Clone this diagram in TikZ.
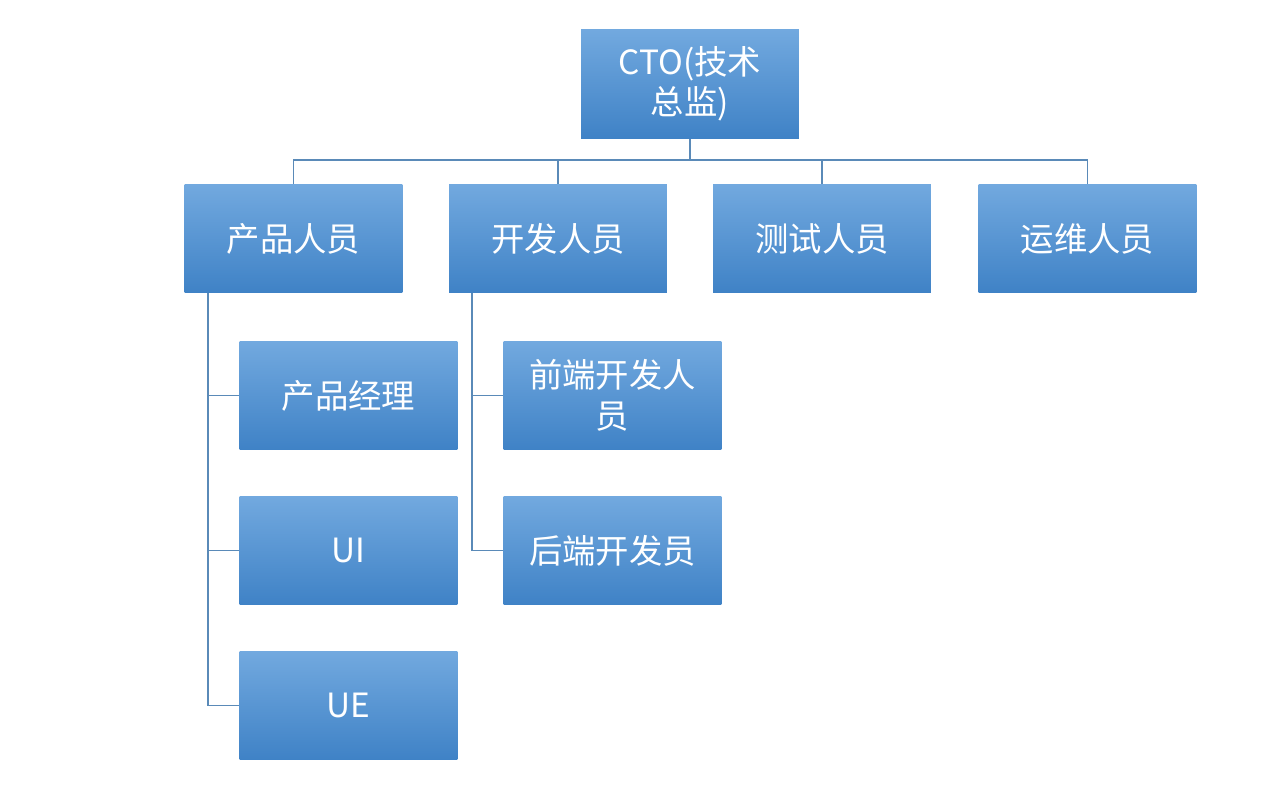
\documentclass[tikz,border=0pt]{standalone}
\usepackage{fontspec}
\setmainfont{Noto Sans CJK SC}
\usetikzlibrary{positioning}
\definecolor{boxtop}{HTML}{72A9DF}
\definecolor{boxbot}{HTML}{3F82C6}
\definecolor{linkcol}{HTML}{5A8AB8}
\tikzset{
  box/.style={rectangle, minimum width=4.36cm, minimum height=2.18cm,
    top color=boxtop, bottom color=boxbot, draw=none, text=white,
    font=\fontsize{19}{23}\selectfont, align=center, inner sep=0pt},
  link/.style={draw=linkcol, line width=0.8pt}
}
\begin{document}
\begin{tikzpicture}[x=0.02cm, y=-0.02cm]
      \useasboundingbox (0,0) rectangle (1280,786);
      % top
      \node[box] (cto) at (690, 84) {CTO(技术\\总监)};
      % - level 1
      \node[box] (prod) at (293.5, 238.5) {产品人员};
      \node[box] (dev) at (558, 238.5) {开发人员};
      \node[box] (test) at (822, 238.5) {测试人员};
      \node[box] (ops) at (1087.5, 238.5) {运维人员};
      % - product team
      \node[box] (pm) at (348.5, 395.5) {产品经理};
      \node[box] (ui) at (348.5, 550.5) {UI};
      \node[box] (ue) at (348.5, 705.5) {UE};
      % - dev team
      \node[box] (fe) at (612.5, 395.5) {前端开发人\\员};
      \node[box] (be) at (612.5, 550.5) {后端开发员};
      % links
      \coordinate (bus) at (690, 160);
      \draw[link] (cto.south) -- (bus);
      \foreach \n in {prod, dev, test, ops}
        \draw[link] (bus) -| (\n.north);
      \coordinate (ptop) at (208, 293);
      \foreach \n in {pm, ui, ue}
        \draw[link] (ptop) |- (\n.west);
      \coordinate (dtop) at (472, 293);
      \foreach \n in {fe, be}
        \draw[link] (dtop) |- (\n.west);
\end{tikzpicture}
\end{document}
